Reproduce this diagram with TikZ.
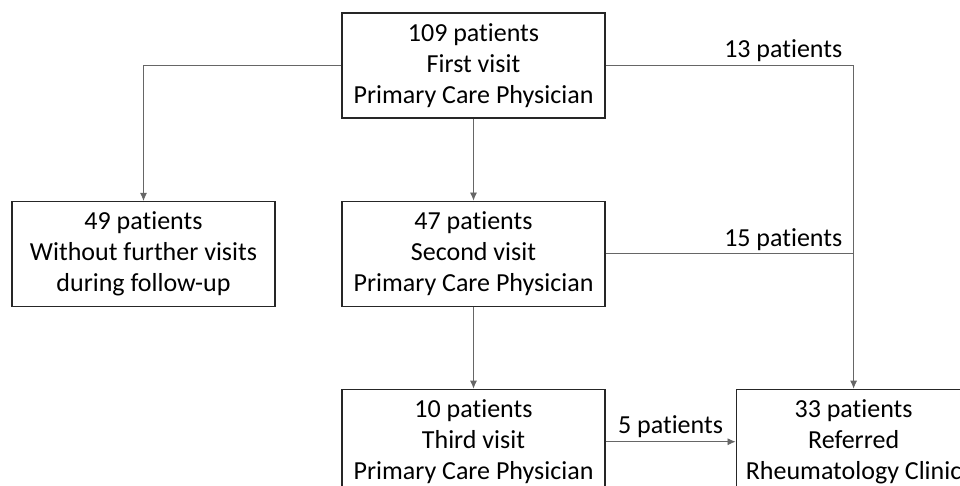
\documentclass[tikz,border=0pt]{standalone}
\usepackage{fontspec}
\setmainfont[Ligatures=NoCommon]{Carlito}
\usetikzlibrary{positioning,arrows.meta}

\begin{document}
\begin{tikzpicture}[x=1pt,y=1pt,node distance=82pt]
	\tikzstyle{every node}=[font=\fontsize{26pt}{31pt}\selectfont]
	\tikzstyle{visit}=[draw=black!85,line width=1.1pt,align=center,minimum width=263pt,minimum height=105pt,inner sep=0pt]
	\tikzstyle{link}=[draw=black!60,line width=0.8pt]
	\tikzstyle{flow}=[link,-{Latex[length=8pt,width=7pt]}]

	\useasboundingbox (0,0) rectangle (960,-485);
	\clip (0,0) rectangle (960,-485);

	\node[visit] (V1) at (473.5,-65.5) {109 patients\\First visit\\Primary Care Physician};
	\node[visit,below=82pt of V1] (V2) {47 patients\\Second visit\\Primary Care Physician};
	\node[visit,below=82pt of V2] (V3) {10 patients\\Third visit\\Primary Care Physician};
	\node[visit] (N) at (143.5,-254) {49 patients\\Without further visits\\during follow-up};
	\node[visit,minimum width=235pt,right=130pt of V3] (R) {33 patients\\Referred\\Rheumatology Clinic};

	\draw[flow] (V1.west) -| (N.north);
	\draw[flow] (V1) -- (V2);
	\draw[flow] (V2) -- (V3);
	\draw[flow] (V1.east) -| node[pos=0.484,above left,inner sep=3pt] {13 patients} (R.north);
	\draw[link] (V2.east) -- node[pos=0.968,above left,inner sep=3pt] {15 patients} (V2.east -| R.north);
	\draw[flow] (V3.east) -- node[above,inner sep=4pt] {5 patients} (R.west);
\end{tikzpicture}
\end{document}
